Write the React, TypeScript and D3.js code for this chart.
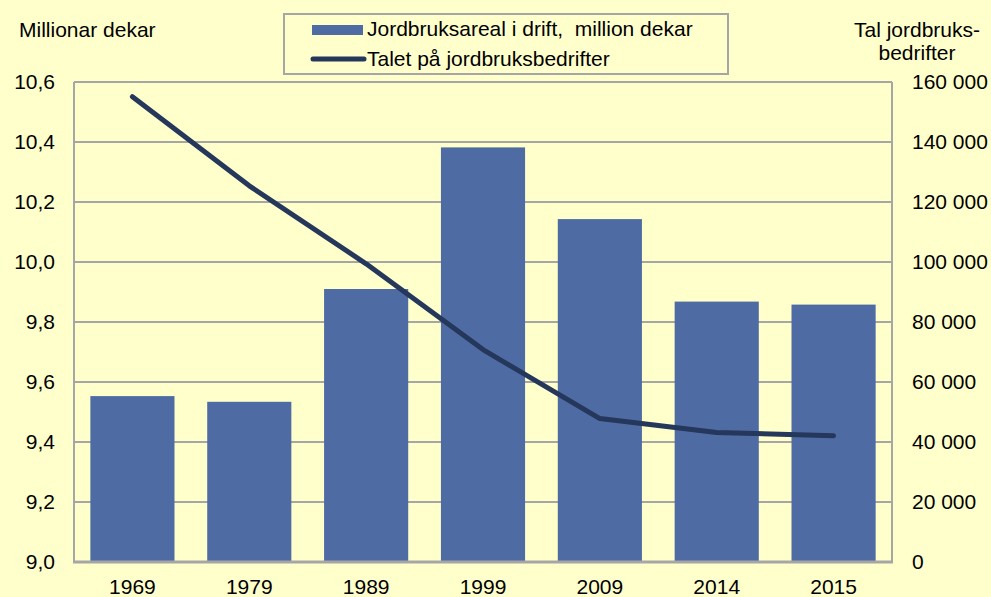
import React from "react";
import * as d3 from "d3";

const years = ["1969", "1979", "1989", "1999", "2009", "2014", "2015"];
const areaValues = [9.553, 9.534, 9.91, 10.382, 10.143, 9.868, 9.858];
const farmCounts = [155100, 125400, 99400, 70800, 47800, 43200, 42100];
const leftTicks = [9.0, 9.2, 9.4, 9.6, 9.8, 10.0, 10.2, 10.4, 10.6];
const rightTicks = [0, 20000, 40000, 60000, 80000, 100000, 120000, 140000, 160000];
const legendLabels = ["Jordbruksareal i drift,  million dekar", "Talet på jordbruksbedrifter"];

const W = 991;
const H = 597;
const L = 74;
const R = 892;
const T = 82;
const B = 562;

const FONT = "'Liberation Sans', Arial, sans-serif";
const FS = 21;
const GRID = "#a6a6a6";
const BAR = "#4e6ba3";
const LINE = "#25375a";

export default function App() {
  const x = d3.scaleBand<string>().domain(years).range([L, R]).paddingInner(0.28).paddingOuter(0.14);
  const yL = d3.scaleLinear().domain([9.0, 10.6]).range([B, T]);
  const yR = d3.scaleLinear().domain([0, 160000]).range([B, T]);
  const fmtL = (v: number) => v.toFixed(1).replace(".", ",");
  const fmtR = (v: number) => (v === 0 ? "0" : d3.format(",")(v).replace(/,/g, " "));
  const line = d3
    .line<number>()
    .x((_, i) => (x(years[i]) as number) + x.bandwidth() / 2)
    .y((d) => yR(d));

  return (
    <svg
      width={W}
      height={H}
      style={{ position: "absolute", left: 0, top: 0, background: "#ffffcc" }}
      fontFamily={FONT}
    >
      <rect x={0} y={0} width={W} height={H} fill="#ffffcc" />
      {leftTicks.slice(1).map((t) => (
        <line key={"g" + t} x1={L} x2={R} y1={yL(t)} y2={yL(t)} stroke={GRID} strokeWidth={2} />
      ))}
      {years.map((yr, i) => (
        <rect
          key={yr}
          x={x(yr)}
          y={yL(areaValues[i])}
          width={x.bandwidth()}
          height={B - yL(areaValues[i])}
          fill={BAR}
        />
      ))}
      <line x1={L} x2={L} y1={T} y2={B} stroke={GRID} strokeWidth={2} />
      <line x1={R} x2={R} y1={T} y2={B} stroke={GRID} strokeWidth={2} />
      <line x1={L - 1} x2={R + 1} y1={B} y2={B} stroke={GRID} strokeWidth={3} />
      <path d={line(farmCounts) || ""} fill="none" stroke={LINE} strokeWidth={5} strokeLinecap="round" strokeLinejoin="round" />
      {leftTicks.map((t) => (
        <text key={"l" + t} x={55} y={yL(t)} dy="0.35em" textAnchor="end" fontSize={FS} fill="#000">
          {fmtL(t)}
        </text>
      ))}
      {rightTicks.map((t) => (
        <text key={"r" + t} x={912} y={yR(t)} dy="0.35em" textAnchor="start" fontSize={FS} fill="#000">
          {fmtR(t)}
        </text>
      ))}
      {years.map((yr) => (
        <text
          key={"x" + yr}
          x={(x(yr) as number) + x.bandwidth() / 2}
          y={587}
          dy="0.35em"
          textAnchor="middle"
          fontSize={FS}
          fill="#000"
        >
          {yr}
        </text>
      ))}
      <text x={19} y={30} dy="0.35em" fontSize={FS} fill="#000">
        Millionar dekar
      </text>
      <text x={917} y={30} dy="0.35em" textAnchor="middle" fontSize={FS} fill="#000">
        Tal jordbruks-
      </text>
      <text x={917} y={53} dy="0.35em" textAnchor="middle" fontSize={FS} fill="#000">
        bedrifter
      </text>
      <rect x={284} y={14} width={444} height={60} fill="#ffffcc" stroke={GRID} strokeWidth={2} />
      <rect x={312} y={25} width={51} height={10} fill={BAR} />
      <text x={367} y={29} dy="0.35em" fontSize={FS} fill="#000" style={{ whiteSpace: "pre" }}>
        {legendLabels[0]}
      </text>
      <line x1={313} x2={364} y1={59} y2={59} stroke={LINE} strokeWidth={5} strokeLinecap="round" />
      <text x={367} y={59} dy="0.35em" fontSize={FS} fill="#000">
        {legendLabels[1]}
      </text>
    </svg>
  );
}
